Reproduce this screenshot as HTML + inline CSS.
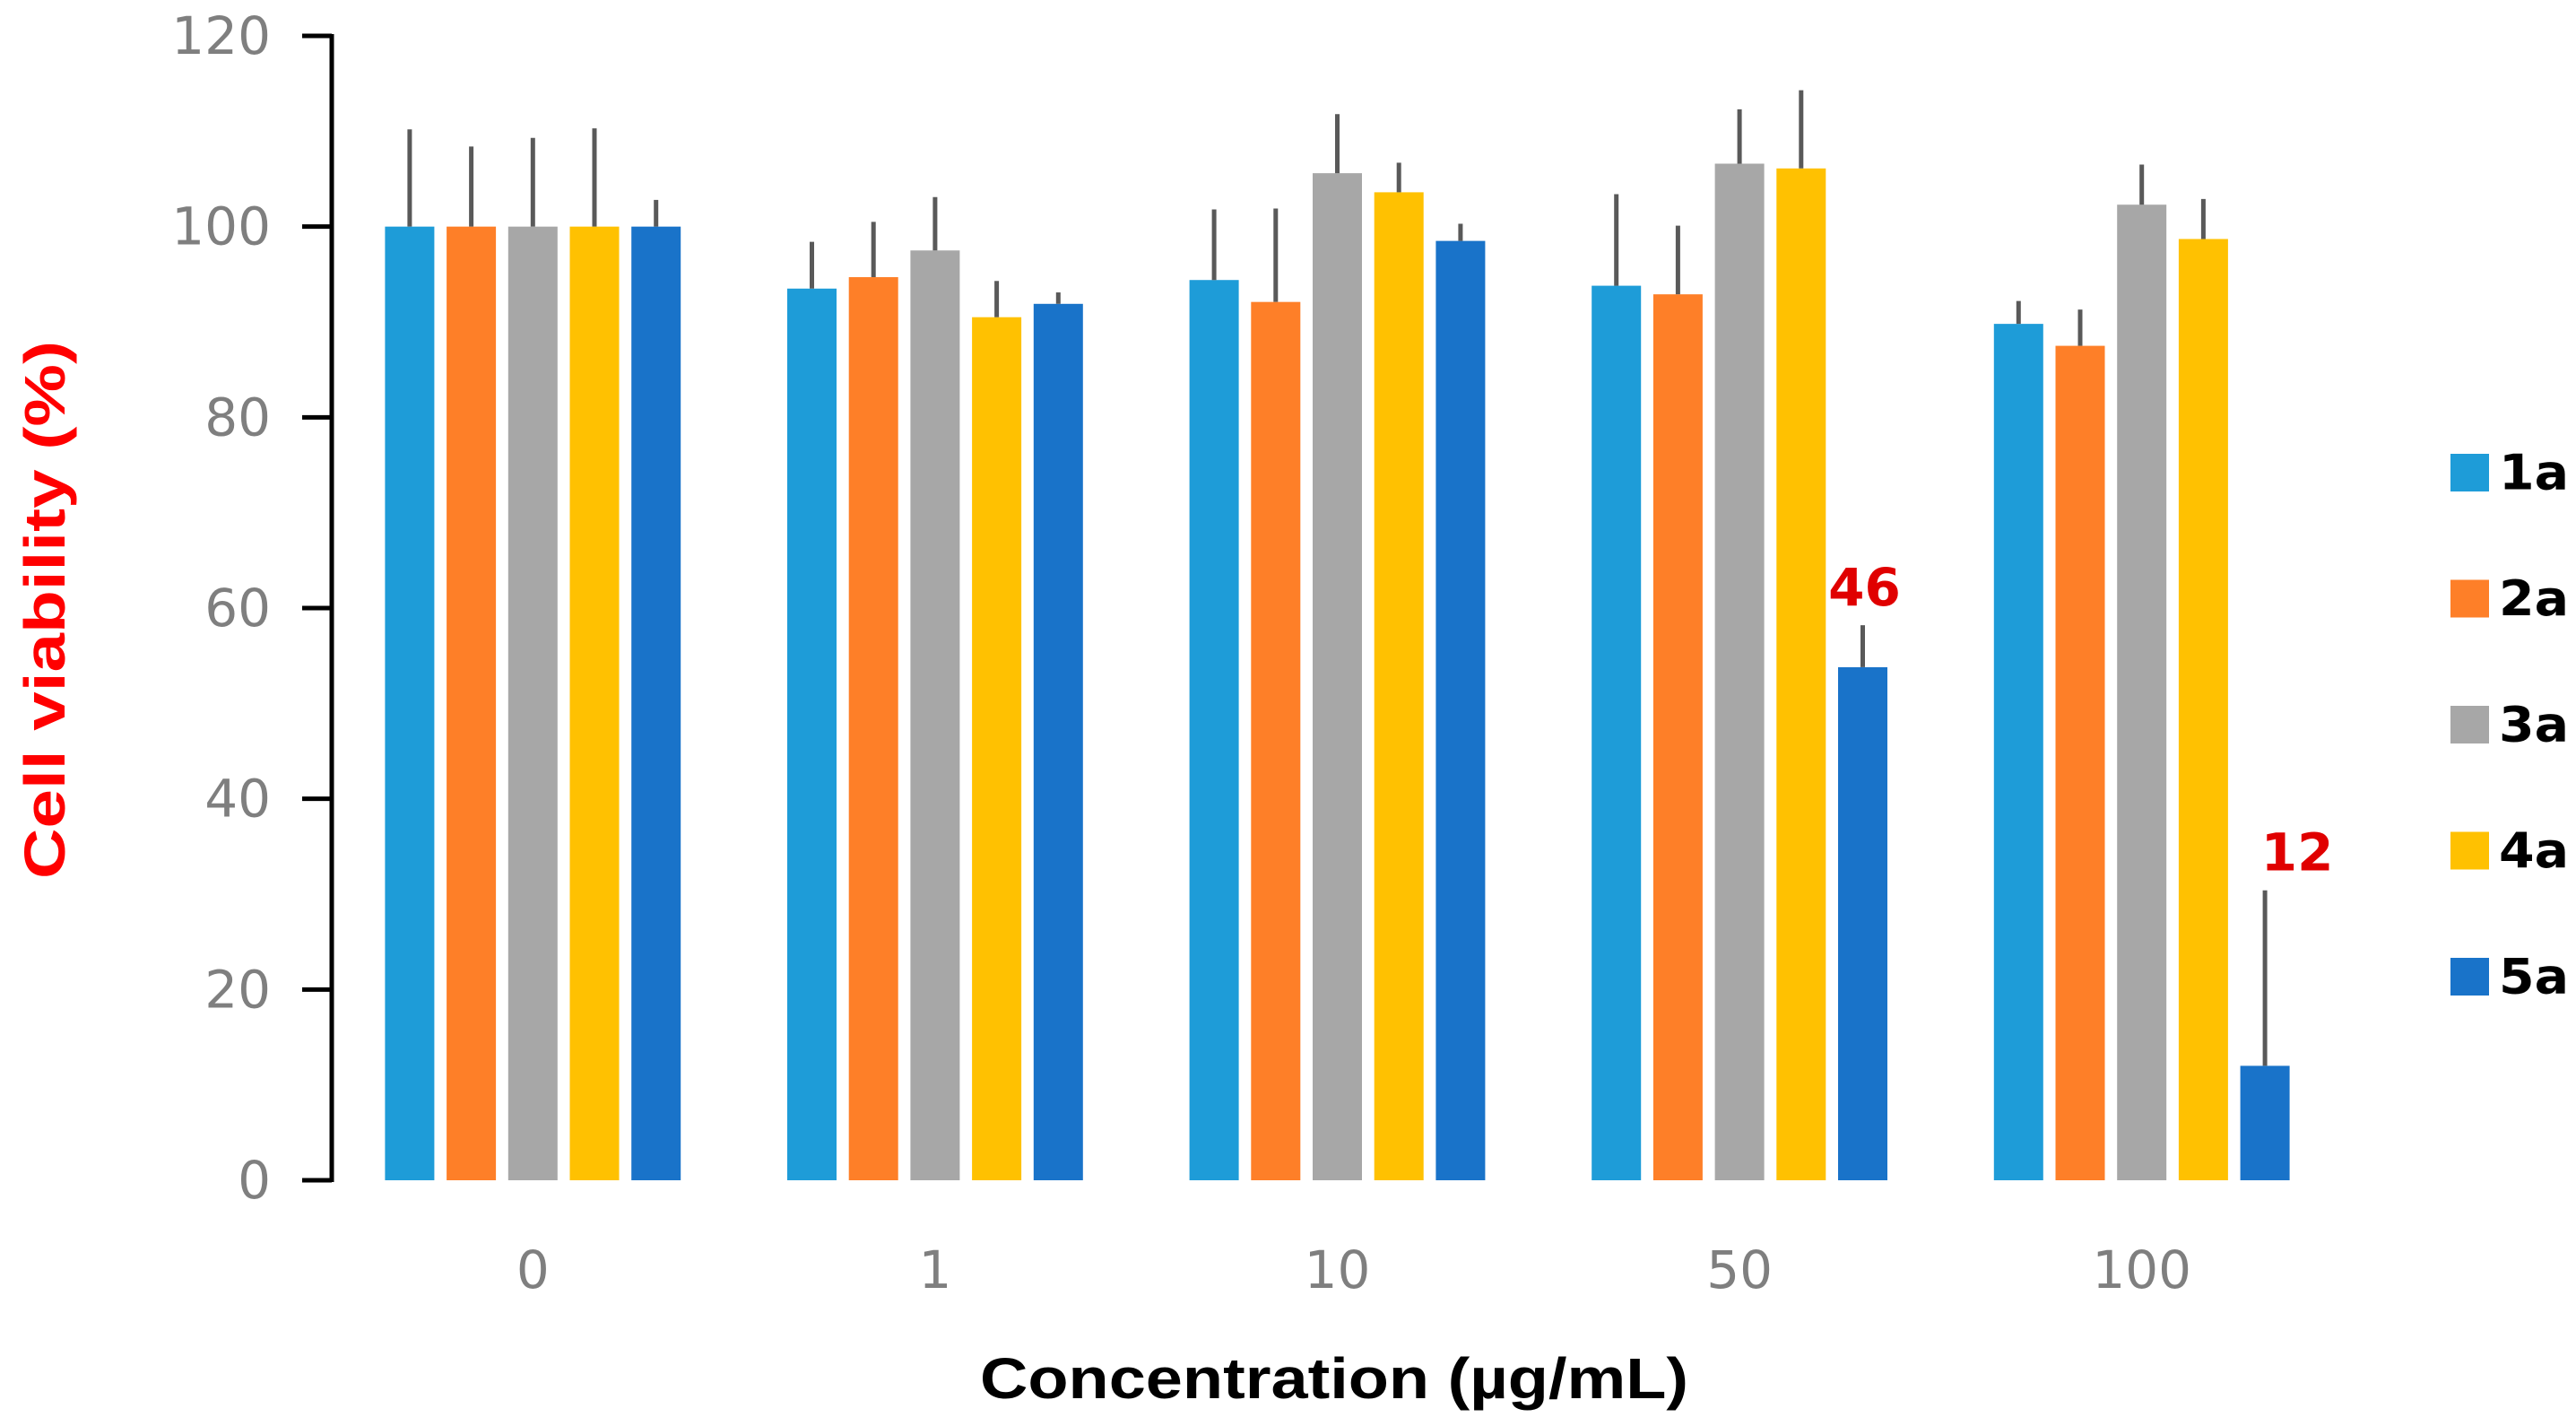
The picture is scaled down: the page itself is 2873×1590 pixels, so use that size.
<!DOCTYPE html>
<html><head><meta charset="utf-8"><style>
html,body{margin:0;padding:0;background:#fff;}
svg{display:block;}
</style></head><body>
<svg id="chart" width="2873" height="1590" viewBox="0 0 2873 1590" xmlns="http://www.w3.org/2000/svg">
<g id="plot"></g>
<text x="50" y="680" transform="rotate(-90 50 680)" text-anchor="middle" dominant-baseline="central" font-family="'Liberation Sans', sans-serif" font-weight="bold" font-size="64" fill="#ff0000" textLength="600" lengthAdjust="spacingAndGlyphs">Cell viability (%)</text>
<text x="1488" y="1537" text-anchor="middle" dominant-baseline="central" font-family="'Liberation Sans', sans-serif" font-weight="bold" font-size="64" fill="#000" textLength="790" lengthAdjust="spacingAndGlyphs">Concentration (µg/mL)</text>
<g id="legend"></g>
</svg>
<script>
const categories = ["0", "1", "10", "50", "100"];
const seriesNames = ["1a", "2a", "3a", "4a", "5a"];
const s1a = [100, 93.5, 94.4, 93.8, 89.8];
const s2a = [100, 94.7, 92.1, 92.9, 87.5];
const s3a = [100, 97.5, 105.6, 106.6, 102.3];
const s4a = [100, 90.5, 103.6, 106.1, 98.7];
const s5a = [100, 91.9, 98.5, 53.8, 12.0];
const e1a = [110.2, 98.4, 101.8, 103.4, 92.2];
const e2a = [108.4, 100.5, 101.9, 100.1, 91.3];
const e3a = [109.3, 103.1, 111.8, 112.3, 106.5];
const e4a = [110.3, 94.3, 106.7, 114.3, 102.9];
const e5a = [102.8, 93.1, 100.3, 58.2, 30.4];
const yTicks = [0, 20, 40, 60, 80, 100, 120];
const annotations = [{cat: 3, series: 4, text: "46"}, {cat: 4, series: 4, text: "12"}];

const annDx = [2, 36];
const colors = ["#1E9CD8", "#FE7F28", "#A7A7A7", "#FFC101", "#1973C9"];
const values = [s1a, s2a, s3a, s4a, s5a];
const errs = [e1a, e2a, e3a, e4a, e5a];
const NS = "http://www.w3.org/2000/svg";
const X0 = 370, X1 = 2613, Y0 = 1316, YTOP = 40, YMAX = 120;
const catW = (X1 - X0) / categories.length;
const barW = 55, step = 68.7;
const y = v => Y0 - (v / YMAX) * (Y0 - YTOP);
const xc = i => X0 + catW * (i + 0.5);
const xb = (i, s) => xc(i) + (s - 2) * step;
const plot = document.getElementById('plot');
function mk(tag, attrs, parent) {
  const e = document.createElementNS(NS, tag);
  for (const k in attrs) e.setAttribute(k, attrs[k]);
  parent.appendChild(e);
  return e;
}
let ax = mk('line', {x1: X0, x2: X0, y1: YTOP - 2, y2: Y0 + 2, stroke: '#000', 'stroke-width': 5}, plot);


yTicks.forEach(t => {
  const l = mk('line', {x1: X0 - 33, x2: X0, y1: y(t), y2: y(t), stroke: '#000', 'stroke-width': 5}, plot);
  
  
  const tx = mk('text', {x: 302, y: y(t), 'text-anchor': 'end', 'dominant-baseline': 'central', 'font-family': "'DejaVu Sans', sans-serif", 'font-size': 58, fill: '#7f7f7f'}, plot);
  tx.textContent = t;
  
  
});
categories.forEach((c, i) => {
  const tx = mk('text', {x: xc(i), y: 1416, 'text-anchor': 'middle', 'dominant-baseline': 'central', 'font-family': "'DejaVu Sans', sans-serif", 'font-size': 58, fill: '#7f7f7f'}, plot);
  tx.textContent = c;
  
  
  values.forEach((vals, s) => {
    const v = vals[i];
    const cx = xb(i, s);
    const r = mk('rect', {x: cx - barW / 2, y: y(v), width: barW, height: Y0 - y(v), fill: colors[s]}, plot);
    
    
    const e = mk('line', {x1: cx, x2: cx, y1: y(v), y2: y(errs[s][i]), stroke: '#595959', 'stroke-width': 5}, plot);
    
    
  });
});
annotations.forEach((a, k) => {
  const top = errs[a.series][a.cat];
  const tx = mk('text', {x: xb(a.cat, a.series) + annDx[k], y: y(top) - 42, 'text-anchor': 'middle', 'dominant-baseline': 'central', 'font-family': "'DejaVu Sans', sans-serif", 'font-weight': 'bold', 'font-size': 58, fill: '#e00000'}, plot);
  tx.textContent = a.text;
  
  
});
const legend = document.getElementById('legend');
seriesNames.forEach((n, s) => {
  const cy = 527 + s * 140.5;
  const r = mk('rect', {x: 2733, y: cy - 21, width: 43, height: 42, fill: colors[s]}, legend);
  
  
  const tx = mk('text', {x: 2787, y: cy, 'dominant-baseline': 'central', 'font-family': "'DejaVu Sans', sans-serif", 'font-weight': 'bold', 'font-size': 54, fill: '#000', textLength: 78, lengthAdjust: 'spacingAndGlyphs'}, legend);
  tx.textContent = n;
  
  
});
</script>
</body></html>
